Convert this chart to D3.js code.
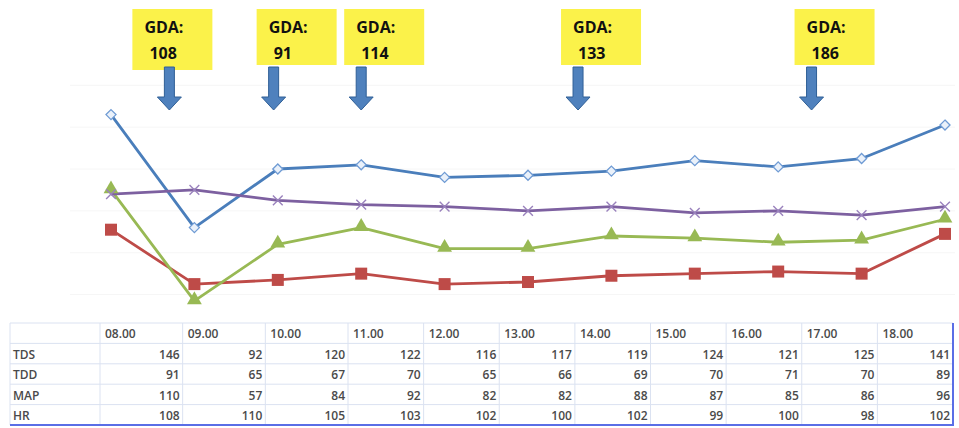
<!DOCTYPE html>
<html>
<head>
<meta charset="utf-8">
<script src="https://cdn.jsdelivr.net/npm/d3@7"></script>
<style>
  body { margin: 0; background: #fff; }
  svg { display: block; }
</style>
</head>
<body>
<svg id="chart" width="959" height="428"></svg>
<script>
// hours on the x axis and the table header
var hours = [8, 9, 10, 11, 12, 13, 14, 15, 16, 17, 18];
var hourLabels = ["08.00", "09.00", "10.00", "11.00", "12.00", "13.00", "14.00", "15.00", "16.00", "17.00", "18.00"];

// series
var seriesNames = ["TDS", "TDD", "MAP", "HR"];
var tds = [146, 92, 120, 122, 116, 117, 119, 124, 121, 125, 141];
var tdd = [91, 65, 67, 70, 65, 66, 69, 70, 71, 70, 89];
var map = [110, 57, 84, 92, 82, 82, 88, 87, 85, 86, 96];
var hr  = [108, 110, 105, 103, 102, 100, 102, 99, 100, 98, 102];

// GDA annotations (time of the arrow, value shown)
var gdaTimes = [8.7, 9.95, 11.0, 13.6, 16.4];
var gdaValues = [108, 91, 114, 133, 186];

var series = [
  {name: "TDS", values: tds, color: "#4a7ebb", marker: "diamond"},
  {name: "TDD", values: tdd, color: "#be4b48", marker: "square"},
  {name: "MAP", values: map, color: "#98b954", marker: "triangle"},
  {name: "HR",  values: hr,  color: "#7d60a0", marker: "cross"}
];

var svg = d3.select("#chart");

var x = d3.scaleLinear().domain([8, 18]).range([111, 945]);
var y = d3.scaleLinear().domain([50, 160]).range([315.5, 85.3]);

// faint gridlines
svg.append("g")
  .selectAll("line")
  .data(d3.range(60, 161, 20))
  .join("line")
  .attr("x1", 70).attr("x2", 955)
  .attr("y1", d => y(d)).attr("y2", d => y(d))
  .attr("stroke", "#f6f6f6")
  .attr("stroke-width", 1);

var line = d3.line()
  .x((d, i) => x(hours[i]))
  .y(d => y(d));

var g = svg.append("g");
series.forEach(function(s){
  g.append("path")
    .datum(s.values)
    .attr("fill", "none")
    .attr("stroke", s.color)
    .attr("stroke-width", 2.8)
    .attr("stroke-linejoin", "round")
    .attr("d", line);
});

// markers
series.forEach(function(s){
  var m = g.append("g").selectAll("g")
    .data(s.values)
    .join("g")
    .attr("transform", (d, i) => "translate(" + x(hours[i]) + "," + y(d) + ")");
  if (s.marker === "diamond") {
    m.append("path")
      .attr("d", d3.symbol(d3.symbolDiamond2, 64))
      .attr("fill", "#eaf1fa")
      .attr("stroke", "#6f9bd4")
      .attr("stroke-width", 1.3);
  } else if (s.marker === "square") {
    m.append("rect")
      .attr("x", -6).attr("y", -6).attr("width", 12).attr("height", 12)
      .attr("fill", s.color);
  } else if (s.marker === "triangle") {
    m.append("path")
      .attr("d", d3.symbol(d3.symbolTriangle, 95))
      .attr("transform", "translate(0,-1)")
      .attr("fill", s.color);
  } else {
    m.append("path")
      .attr("d", d3.symbol(d3.symbolX, 64))
      .attr("fill", "none")
      .attr("stroke", "#9a82bd")
      .attr("stroke-width", 1.4);
  }
});

// GDA boxes and arrows
var ann = svg.append("g")
  .selectAll("g")
  .data(gdaValues)
  .join("g")
  .attr("transform", (d, i) => "translate(" + x(gdaTimes[i]) + ",0)");

ann.append("rect")
  .attr("x", (d, i) => i === 0 ? -37 : -17)
  .attr("y", 9)
  .attr("width", 80)
  .attr("height", (d, i) => i === 0 ? 61 : 56)
  .attr("fill", "#fbf24a");

ann.append("text")
  .attr("x", (d, i) => i === 0 ? -25 : -5)
  .attr("y", 33)
  .attr("font-family", "Open Sans, sans-serif")
  .attr("font-weight", "bold")
  .attr("font-size", 16)
  .attr("fill", "#111")
  .text("GDA:");

ann.append("text")
  .attr("x", (d, i) => i === 0 ? -20 : 0)
  .attr("y", 59)
  .attr("font-family", "Open Sans, sans-serif")
  .attr("font-weight", "bold")
  .attr("font-size", 16)
  .attr("fill", "#111")
  .text(d => d);

ann.append("path")
  .attr("d", "M-5,67 L5,67 L5,97 L12,97 L0,110 L-12,97 L-5,97 Z")
  .attr("fill", "#4f81bd")
  .attr("stroke", "#2f5f96")
  .attr("stroke-width", 1);

// data table
var rowH = 20.4;
var tTop = 323;
var tLeft = 10;
// column edges: first columns are a bit wider in the original
var col = d3.scaleLinear().domain([0, 3, 11]).range([100, 348, 953]);

var tbl = svg.append("g")
  .attr("font-family", "Open Sans, sans-serif")
  .attr("font-size", 12)
  .attr("font-weight", 600)
  .attr("fill", "#4a4a4a");

// horizontal rules
tbl.selectAll("line.h")
  .data(d3.range(0, 5))
  .join("line")
  .attr("x1", tLeft).attr("x2", col(11))
  .attr("y1", d => tTop + d * rowH).attr("y2", d => tTop + d * rowH)
  .attr("stroke", "#dbe2f1");

// vertical rules
tbl.selectAll("line.v")
  .data([tLeft].concat(d3.range(0, 11).map(i => col(i))))
  .join("line")
  .attr("x1", d => d).attr("x2", d => d)
  .attr("y1", tTop).attr("y2", tTop + 5 * rowH)
  .attr("stroke", "#dbe2f1");

// blue selection border bottom and right
tbl.append("path")
  .attr("d", "M" + tLeft + "," + (tTop + 5 * rowH) + "H" + col(11) + "V" + tTop)
  .attr("fill", "none")
  .attr("stroke", "#5a6ee6")
  .attr("stroke-width", 2);

tbl.selectAll("text.hd")
  .data(hourLabels)
  .join("text")
  .attr("x", (d, i) => col(i) + 5)
  .attr("y", tTop + rowH - 5)
  .text(d => d);

var rows = tbl.selectAll("g.row")
  .data(series)
  .join("g")
  .attr("transform", (d, i) => "translate(0," + (tTop + (i + 2) * rowH - 5) + ")");

rows.append("text")
  .attr("x", tLeft + 3)
  .text((d, i) => seriesNames[i]);

rows.selectAll("text.v")
  .data(d => d.values)
  .join("text")
  .attr("x", (d, i) => col(i + 1) - 3)
  .attr("text-anchor", "end")
  .text(d => d);
</script>
</body>
</html>
